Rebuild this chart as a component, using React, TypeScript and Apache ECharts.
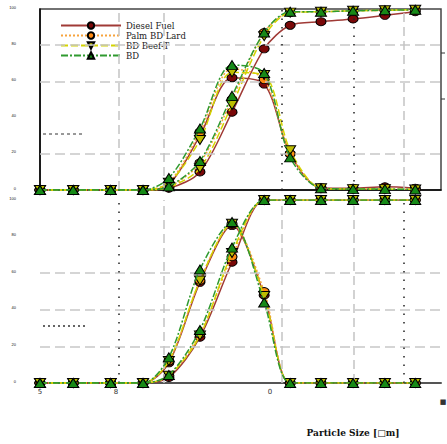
import React, { useEffect, useRef } from "react";
import * as echarts from "echarts";

// Particle sizes (log axis) shared by both panels
const sizes = [0.01, 0.018, 0.035, 0.062, 0.098, 0.17, 0.3, 0.53, 0.84, 1.45, 2.56, 4.5, 7.7];
const materials = ["Diesel Fuel", "Palm BD Lard", "BD Beef-T", "BD"];

// Top panel: frequency and cumulative distributions (%)
const topFreqDiesel = [0, 0, 0, 0, 3, 30, 62, 58.5, 20, 1.3, 1, 1.8, 1];
const topFreqPalm = [0, 0, 0, 0, 4, 32, 67, 61, 20, 1, 0.5, 0.5, 0.3];
const topFreqBeef = [0, 0, 0, 0, 4, 27.6, 65, 63.5, 22, 1, 0.5, 0.5, 0.3];
const topFreqBD = [0, 0, 0, 0, 6.6, 34, 69, 64.6, 18, 1, 0.5, 0.5, 0.3];
const topCumDiesel = [0, 0, 0, 0, 1, 10, 43, 78, 91, 93, 94.5, 96.5, 98.5];
const topCumPalm = [0, 0, 0, 0, 1.7, 15, 50, 87, 98, 98.5, 99, 99.3, 99.6];
const topCumBeef = [0, 0, 0, 0, 1.5, 12, 47, 85, 98, 98.5, 99, 99.3, 99.6];
const topCumBD = [0, 0, 0, 0, 2, 16, 52, 87, 98.5, 98.5, 99, 99.3, 99.6];

// Bottom panel
const botFreqDiesel = [0, 0, 0, 0, 11, 55, 86, 48, 0, 0, 0, 0, 0];
const botFreqPalm = [0, 0, 0, 0, 12, 56, 87, 50, 0, 0, 0, 0, 0];
const botFreqBeef = [0, 0, 0, 0, 12, 56, 87, 47.5, 0, 0, 0, 0, 0];
const botFreqBD = [0, 0, 0, 0, 14, 62, 88, 44, 0, 0, 0, 0, 0];
const botCumDiesel = [0, 0, 0, 0, 3, 25, 66, 100, 100, 100, 100, 100, 100];
const botCumPalm = [0, 0, 0, 0, 4, 27, 69, 100, 100, 100, 100, 100, 100];
const botCumBeef = [0, 0, 0, 0, 4, 26, 71, 100, 100, 100, 100, 100, 100];
const botCumBD = [0, 0, 0, 0, 4.4, 29, 74, 100, 100, 100, 100, 100, 100];

// Reference lines
const topHGrid = [20, 60, 80];
const botHGrid = [20, 40, 60];
const vGridSizes = [0.0435, 0.0868, 0.735, 2.6, 6.31];
const topVGridKinds = ["gray", "gray", "dot", "dot", "gray"];
const botVGridKinds = ["dot", "gray", "gray", "gray", "dot"];

const xTickLabels = ["5", "8", "0", "■"];

const styles = [
  { line: "#a03a36", fill: "#7a0808", type: "solid", symbol: "circle", size: [10, 8], rot: 0 },
  { line: "#f7a33c", fill: "#ff8a12", type: [2, 2], symbol: "circle", size: [10, 8], rot: 0 },
  { line: "#d4d400", fill: "#bdbd00", type: [7, 3], symbol: "triangle", size: [11, 9], rot: 180 },
  { line: "#2f9a2f", fill: "#178a17", type: [7, 2, 2, 2], symbol: "triangle", size: [11, 9], rot: 0 },
];

const panels = [
  { freq: [topFreqDiesel, topFreqPalm, topFreqBeef, topFreqBD], cum: [topCumDiesel, topCumPalm, topCumBeef, topCumBD] },
  { freq: [botFreqDiesel, botFreqPalm, botFreqBeef, botFreqBD], cum: [botCumDiesel, botCumPalm, botCumBeef, botCumBD] },
];

function vLine(v: number, kind: string) {
  return {
    xAxis: v,
    lineStyle:
      kind === "gray"
        ? { color: "#c4c4c4", type: [9, 5], width: 1.5 }
        : { color: "#222", type: [1.5, 7], width: 1.5 },
  };
}

export default function App() {
  const ref = useRef<HTMLDivElement>(null);
  useEffect(() => {
    if (!ref.current) return;
    const chart = echarts.init(ref.current, null, { renderer: "svg" });
    const series: any[] = [];
    panels.forEach((p, pi) => {
      series.push({
        type: "line",
        xAxisIndex: pi,
        yAxisIndex: pi,
        data: [],
        silent: true,
        z: 1,
        markLine: {
          silent: true,
          symbol: "none",
          label: { show: false },
          data: [
            ...(pi === 0 ? topHGrid : botHGrid).map((v) => ({
              yAxis: v,
              lineStyle: { color: "#c8c8c8", type: [10, 5], width: 1.5 },
            })),
            ...vGridSizes.map((v, i) => vLine(v, (pi === 0 ? topVGridKinds : botVGridKinds)[i])),
          ],
        },
      });
      ["cum", "freq"].forEach((kind) => {
        materials.forEach((name, mi) => {
          const st = styles[mi];
          const arr = (p as any)[kind][mi] as number[];
          series.push({
            type: "line",
            name,
            xAxisIndex: pi,
            yAxisIndex: pi,
            data: sizes.map((s, i) => [s, arr[i]]),
            smooth: 0.3,
            symbol: st.symbol,
            symbolSize: st.size,
            symbolRotate: st.rot,
            itemStyle: { color: st.fill, borderColor: "#000", borderWidth: 1 },
            lineStyle: { color: st.line, width: 1.5, type: st.type },
            z: 2 + mi,
          });
        });
      });
    });

    const yAxisCommon = {
      type: "value",
      min: 0,
      max: 100,
      interval: 20,
      splitLine: { show: false },
      axisTick: { show: false },
      axisLabel: { show: true, fontSize: 4, color: "#111", margin: 24, verticalAlign: "bottom" },
    };

    chart.setOption({
      animation: false,
      backgroundColor: "#fff",
      grid: [
        { left: 40, right: 6, top: 9, height: 181, show: true, borderColor: "#444", borderWidth: 1.5 },
        { left: 40, right: 6, top: 200, height: 183 },
      ],
      legend: {
        data: materials,
        orient: "vertical",
        left: 60,
        top: 21,
        padding: 0,
        itemWidth: 60,
        itemHeight: 8,
        itemGap: 1,
        textStyle: { fontSize: 8.5, fontFamily: "DejaVu Serif", color: "#222" },
      },
      xAxis: [
        {
          type: "log",
          logBase: 10,
          min: 0.01,
          max: 12.15,
          gridIndex: 0,
          axisLine: { show: true, lineStyle: { color: "#000", width: 1.5 } },
          axisTick: { show: false },
          axisLabel: { show: false },
          splitLine: { show: false },
        },
        {
          type: "log",
          logBase: 10,
          min: 0.01,
          max: 12.15,
          gridIndex: 1,
          position: "top",
          axisLine: { show: true, lineStyle: { color: "#555", width: 2 } },
          axisTick: { show: false },
          axisLabel: { show: false },
          splitLine: { show: false },
        },
      ],
      yAxis: [
        { ...yAxisCommon, gridIndex: 0, axisLine: { show: true, lineStyle: { color: "#000", width: 1.5 } } },
        { ...yAxisCommon, gridIndex: 1, axisLine: { show: false } },
      ],
      series,
      graphic: [
        ...xTickLabels.map((t, i) => ({
          type: "text",
          x: [40, 116, 270, 443][i],
          y: [392, 392, 392, 402][i],
          style: { text: t, fontSize: 7, fill: "#333", align: "center", verticalAlign: "middle", fontFamily: "DejaVu Sans" },
        })),
        {
          type: "text",
          x: 353,
          y: 433,
          style: {
            text: "Particle Size [□m]",
            fontSize: 9,
            fontWeight: "bold",
            fontFamily: "DejaVu Serif",
            fill: "#111",
            align: "center",
            verticalAlign: "middle",
          },
        },
        { type: "line", shape: { x1: 43, y1: 134, x2: 83, y2: 134 }, style: { stroke: "#333", lineWidth: 1, lineDash: [3, 3] } },
        { type: "line", shape: { x1: 43, y1: 326, x2: 87, y2: 326 }, style: { stroke: "#333", lineWidth: 1.5, lineDash: [2, 3] } },
        { type: "line", shape: { x1: 441, y1: 53, x2: 445, y2: 53 }, style: { stroke: "#333", lineWidth: 1 } },
        { type: "line", shape: { x1: 441, y1: 99, x2: 445, y2: 99 }, style: { stroke: "#333", lineWidth: 1 } },
      ],
    });
    return () => chart.dispose();
  }, []);
  return <div ref={ref} style={{ position: "fixed", left: 0, top: 0, width: 447, height: 444 }} />;
}
